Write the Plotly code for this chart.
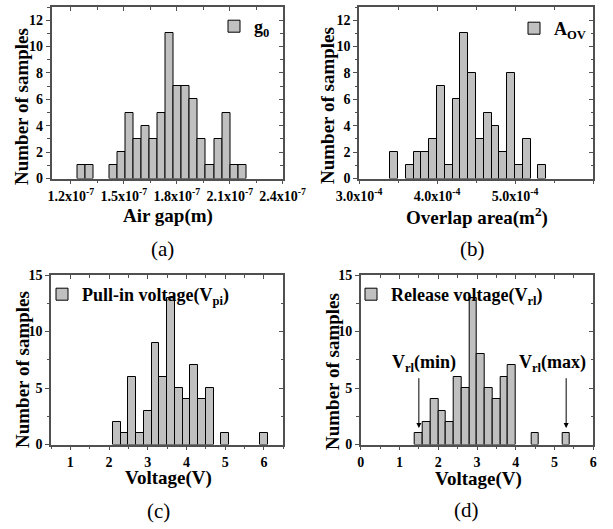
import plotly.graph_objects as go

# ---------------- data (bins with zero samples are not drawn) ----------------
air_gap_bins = [1.259e-7, 1.305e-7, 1.441e-7, 1.487e-7, 1.532e-7,
                1.578e-7, 1.624e-7, 1.669e-7, 1.715e-7, 1.760e-7, 1.806e-7, 1.851e-7,
                1.897e-7, 1.942e-7, 1.988e-7, 2.034e-7, 2.079e-7, 2.125e-7, 2.170e-7]
air_gap_counts = [1, 1, 1, 2, 5, 3, 4, 3, 5, 11, 7, 7, 6, 3, 1, 3, 5, 1, 1]

area_bins = [3.45e-4, 3.65e-4, 3.75e-4, 3.85e-4, 3.95e-4, 4.05e-4, 4.15e-4,
             4.25e-4, 4.35e-4, 4.45e-4, 4.55e-4, 4.65e-4, 4.75e-4, 4.85e-4, 4.95e-4,
             5.05e-4, 5.15e-4, 5.35e-4]
area_counts = [2, 1, 2, 2, 3, 7, 1, 6, 11, 8, 3, 5, 4, 2, 8, 1, 3, 1]

vpi_bins = [2.2, 2.4, 2.6, 2.8, 3.0, 3.2, 3.4, 3.6, 3.8, 4.0, 4.2, 4.4, 4.6, 5.0, 6.0]
vpi_counts = [2, 1, 6, 1, 3, 9, 6, 13, 5, 4, 7, 4, 5, 1, 1]

vrl_bins = [1.5, 1.7, 1.9, 2.1, 2.3, 2.5, 2.7, 2.9, 3.1, 3.3, 3.5, 3.7, 3.9, 4.5, 5.3]
vrl_counts = [1, 2, 4, 3, 2, 6, 5, 13, 8, 5, 4, 6, 7, 1, 1]

air_gap_ticks = [1.2e-7, 1.5e-7, 1.8e-7, 2.1e-7, 2.4e-7]
air_gap_ticktext = ["1.2x10<sup>-7</sup>", "1.5x10<sup>-7</sup>", "1.8x10<sup>-7</sup>",
                    "2.1x10<sup>-7</sup>", "2.4x10<sup>-7</sup>"]
area_ticks = [3.0e-4, 4.0e-4, 5.0e-4, 6.0e-4]
area_ticktext = ["3.0x10<sup>-4</sup>", "4.0x10<sup>-4</sup>", "5.0x10<sup>-4</sup>",
                 "6.0x10<sup>-4</sup>"]

vrl_min = 1.5
vrl_max = 5.3

# ---------------- style ----------------
W, H = 613, 529
FONT = "Liberation Serif, Times New Roman, serif"
AXC = "#505050"
BAR_FILL = "#c0c0c0"


def px(x):
    return x / W


def py(y):
    return 1 - y / H


fig = go.Figure()

specs = [
    ("x", "y", air_gap_bins, air_gap_counts, 0.0456e-7, "g<sub>0</sub>", "legend"),
    ("x2", "y2", area_bins, area_counts, 1.0e-5, "A<sub>OV</sub>", "legend2"),
    ("x3", "y3", vpi_bins, vpi_counts, 0.2, "Pull-in voltage(V<sub>pi</sub>)", "legend3"),
    ("x4", "y4", vrl_bins, vrl_counts, 0.2, "Release voltage(V<sub>rl</sub>)", "legend4"),
]
for xa, ya, xs, ys, w, name, leg in specs:
    fig.add_trace(go.Bar(
        x=xs, y=ys, width=w, xaxis=xa, yaxis=ya, name=name, legend=leg,
        marker=dict(color=BAR_FILL, line=dict(color="black", width=1)),
        showlegend=True, hoverinfo="skip",
    ))

# invisible traces carrying the mirrored (top/right) tick axes
for k in range(5, 9):
    fig.add_trace(go.Scatter(x=[], y=[], xaxis=f"x{k}", yaxis=f"y{k}",
                             showlegend=False, hoverinfo="skip"))

tickfont = dict(family=FONT, size=14, color="black", weight="bold")


def xaxis(dom, rng, anchor, tickvals=None, ticktext=None, dtick=None, minor=None):
    d = dict(domain=dom, range=rng, anchor=anchor, showgrid=False, zeroline=False,
             automargin=False,
             showline=True, linecolor=AXC, linewidth=1.5, mirror=True,
             ticks="outside", ticklen=4, tickwidth=1, tickcolor=AXC,
             tickfont=tickfont,
             minor=dict(ticks="outside", ticklen=2.5, tickwidth=1, tickcolor=AXC,
                        dtick=minor, showgrid=False))
    if tickvals is not None:
        d.update(tickmode="array", tickvals=tickvals, ticktext=ticktext)
    else:
        d.update(tickmode="linear", tick0=0, dtick=dtick)
    return d


def yaxis(dom, rng, anchor, dtick, minor):
    return dict(domain=dom, range=rng, anchor=anchor, showgrid=False, zeroline=False,
                automargin=False,
                showline=True, linecolor=AXC, linewidth=1.5, mirror=True,
                ticks="outside", ticklen=4, tickwidth=1, tickcolor=AXC,
                tickmode="linear", tick0=0, dtick=dtick, tickfont=tickfont,
                minor=dict(ticks="outside", ticklen=2.5, tickwidth=1, tickcolor=AXC,
                           dtick=minor, showgrid=False))


def mirror_x(base, anchor, rng, tickvals=None, dtick=None, minor=None):
    d = dict(overlaying=base, anchor=anchor, side="top", range=rng, showgrid=False,
             zeroline=False, showline=False, automargin=False, showticklabels=False,
             ticks="inside", ticklen=4, tickwidth=1, tickcolor=AXC,
             minor=dict(ticks="inside", ticklen=2.5, tickwidth=1, tickcolor=AXC,
                        dtick=minor, showgrid=False))
    if tickvals is not None:
        d.update(tickmode="array", tickvals=tickvals)
    else:
        d.update(tickmode="linear", tick0=0, dtick=dtick)
    return d


def mirror_y(base, anchor, rng, dtick, minor):
    return dict(overlaying=base, anchor=anchor, side="right", range=rng, showgrid=False,
                zeroline=False, showline=False, automargin=False, showticklabels=False,
                ticks="inside", ticklen=4, tickwidth=1, tickcolor=AXC,
                tickmode="linear", tick0=0, dtick=dtick,
                minor=dict(ticks="inside", ticklen=2.5, tickwidth=1, tickcolor=AXC,
                           dtick=minor, showgrid=False))


ytop_ab, ybot_ab = 7, 178.5
ytop_cd, ybot_cd = 275, 444.5

xr_a = [1.09e-7, 2.4e-7]
xr_b = [3.0e-4, 6.0e-4]
xr_c = [0.5, 6.5]
xr_d = [0, 6]
yr_ab = [0, 13]
yr_cd = [0, 15]

fig.update_layout(
    xaxis=xaxis([px(51.5), px(282.7)], xr_a, "y", air_gap_ticks, air_gap_ticktext, minor=0.15e-7),
    yaxis=yaxis([py(ybot_ab), py(ytop_ab)], yr_ab, "x", 2, 1),
    xaxis2=xaxis([px(359), px(593)], xr_b, "y2", area_ticks, area_ticktext, minor=0.5e-4),
    yaxis2=yaxis([py(ybot_ab), py(ytop_ab)], yr_ab, "x2", 2, 1),
    xaxis3=xaxis([px(51), px(283.3)], xr_c, "y3", dtick=1, minor=0.5),
    yaxis3=yaxis([py(ybot_cd), py(ytop_cd)], yr_cd, "x3", 5, 2.5),
    xaxis4=xaxis([px(360.7), px(593.3)], xr_d, "y4", dtick=1, minor=0.5),
    yaxis4=yaxis([py(ybot_cd), py(ytop_cd)], yr_cd, "x4", 5, 2.5),
    xaxis5=mirror_x("x", "y5", xr_a, tickvals=air_gap_ticks, minor=0.15e-7),
    yaxis5=mirror_y("y", "x5", yr_ab, 2, 1),
    xaxis6=mirror_x("x2", "y6", xr_b, tickvals=area_ticks, minor=0.5e-4),
    yaxis6=mirror_y("y2", "x6", yr_ab, 2, 1),
    xaxis7=mirror_x("x3", "y7", xr_c, dtick=1, minor=0.5),
    yaxis7=mirror_y("y3", "x7", yr_cd, 5, 2.5),
    xaxis8=mirror_x("x4", "y8", xr_d, dtick=1, minor=0.5),
    yaxis8=mirror_y("y4", "x8", yr_cd, 5, 2.5),
)

legfont = dict(family=FONT, size=18, color="black", weight="bold")


def legend(xl, yt):
    return dict(x=px(xl), y=py(yt), xanchor="left", yanchor="top",
                bgcolor="rgba(0,0,0,0)", borderwidth=0, font=legfont,
                itemwidth=30, tracegroupgap=0)


fig.update_layout(
    legend=legend(214, 8),
    legend2=legend(514, 10),
    legend3=legend(42, 276),
    legend4=legend(351, 276),
)

ann = []
titlefont = dict(family=FONT, size=19, color="black", weight="bold")
# y titles
for xc, yc in [(22, 107), (327, 106), (22, 370), (332, 372)]:
    ann.append(dict(text="Number of samples", x=px(xc), y=py(yc), xref="paper", yref="paper",
                    textangle=-90, showarrow=False, font=titlefont,
                    xanchor="center", yanchor="middle"))
# x titles
for txt, xc, yc in [("Air gap(m)", 168, 216), ("Overlap area(m<sup>2</sup>)", 477, 216),
                    ("Voltage(V)", 168, 478), ("Voltage(V)", 478, 479)]:
    ann.append(dict(text=txt, x=px(xc), y=py(yc), xref="paper", yref="paper",
                    showarrow=False, font=titlefont, xanchor="center", yanchor="middle"))
# captions
capfont = dict(family=FONT, size=21, color="black")
for txt, xc, yc in [("(a)", 162, 249), ("(b)", 472, 249), ("(c)", 158, 511), ("(d)", 466, 510)]:
    ann.append(dict(text=txt, x=px(xc), y=py(yc), xref="paper", yref="paper",
                    showarrow=False, font=capfont, xanchor="center", yanchor="middle"))
# arrows in (d)
for xv in [vrl_min, vrl_max]:
    ann.append(dict(x=xv, y=1.45, ax=xv, ay=6.0, xref="x4", yref="y4", axref="x4", ayref="y4",
                    text="", showarrow=True, arrowhead=2, arrowsize=1, arrowwidth=1,
                    arrowcolor="black"))
notefont = dict(family=FONT, size=18, color="black", weight="bold")
ann.append(dict(text="V<sub>rl</sub>(min)", x=1.63, y=7.2, xref="x4", yref="y4",
                showarrow=False, font=notefont, xanchor="center", yanchor="middle"))
ann.append(dict(text="V<sub>rl</sub>(max)", x=4.96, y=7.2, xref="x4", yref="y4",
                showarrow=False, font=notefont, xanchor="center", yanchor="middle"))

fig.update_layout(
    annotations=ann,
    width=W, height=H,
    margin=dict(l=0, r=0, t=0, b=0, autoexpand=False),
    paper_bgcolor="white", plot_bgcolor="white",
    bargap=0, barmode="overlay",
    font=dict(family=FONT, color="black"),
    hovermode=False,
)

fig.write_html("out.html", config={"displayModeBar": False},
               post_script="document.body.style.margin='0';document.body.style.padding='0';")
